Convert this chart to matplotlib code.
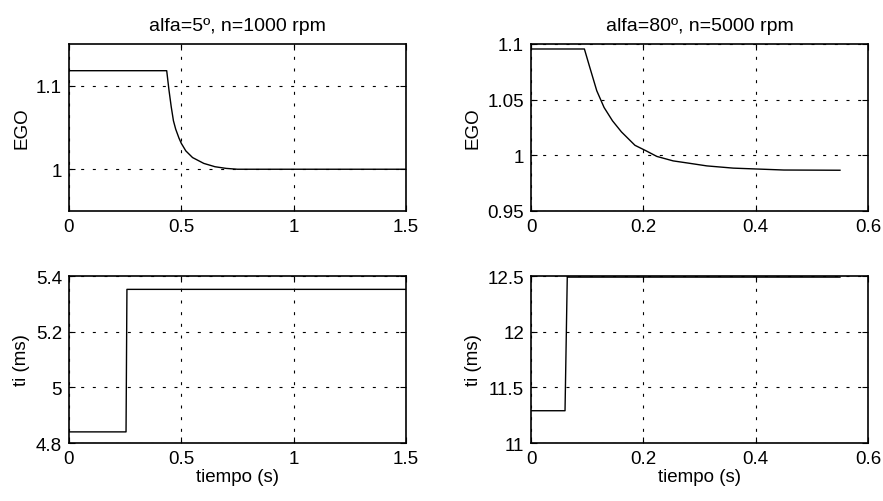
import matplotlib.pyplot as plt

plt.rcParams['font.family'] = ['Liberation Sans', 'DejaVu Sans']

# Datos leídos de la figura
# alfa=5º, n=1000 rpm
t1_ego = [0, 0.435, 0.445, 0.455, 0.465, 0.475, 0.49, 0.5, 0.52, 0.55, 0.6, 0.65, 0.7, 0.75, 1.5]
ego1 = [1.118, 1.118, 1.095, 1.075, 1.058, 1.048, 1.037, 1.031, 1.022, 1.014, 1.007, 1.003, 1.001, 1.0, 1.0]
t1_ti = [0, 0.254, 0.258, 1.5]
ti1 = [4.84, 4.84, 5.352, 5.352]

# alfa=80º, n=5000 rpm
t2_ego = [0, 0.095, 0.104, 0.117, 0.13, 0.145, 0.161, 0.185, 0.205, 0.224, 0.253, 0.28, 0.313, 0.36, 0.413, 0.45, 0.55]
ego2 = [1.0955, 1.0955, 1.080, 1.058, 1.043, 1.031, 1.021, 1.009, 1.004, 0.999, 0.995, 0.993, 0.9905, 0.9885, 0.9875, 0.9868, 0.9866]
t2_ti = [0, 0.0605, 0.0645, 0.55]
ti2 = [11.29, 11.29, 12.49, 12.49]

titulos = ['alfa=5º, n=1000 rpm', 'alfa=80º, n=5000 rpm']

fig = plt.figure(figsize=(8.83, 5.02), dpi=100)
fs = 13.5

ax1 = fig.add_axes([0.0781, 0.5777, 0.3817, 0.3327])
ax2 = fig.add_axes([0.6014, 0.5777, 0.3817, 0.3327])
ax3 = fig.add_axes([0.0781, 0.1155, 0.3817, 0.3327])
ax4 = fig.add_axes([0.6014, 0.1155, 0.3817, 0.3327])

ax1.plot(t1_ego, ego1, color='black', lw=1)
ax2.plot(t2_ego, ego2, color='black', lw=1)
ax3.plot(t1_ti, ti1, color='black', lw=1)
ax4.plot(t2_ti, ti2, color='black', lw=1)

ax1.set_xlim(0, 1.5); ax1.set_ylim(0.95, 1.15)
ax1.set_xticks([0, 0.5, 1, 1.5]); ax1.set_yticks([1, 1.1])
ax1.set_xticklabels(['0', '0.5', '1', '1.5']); ax1.set_yticklabels(['1', '1.1'])

ax2.set_xlim(0, 0.6); ax2.set_ylim(0.95, 1.1)
ax2.set_xticks([0, 0.2, 0.4, 0.6]); ax2.set_yticks([0.95, 1, 1.05, 1.1])
ax2.set_xticklabels(['0', '0.2', '0.4', '0.6']); ax2.set_yticklabels(['0.95', '1', '1.05', '1.1'])

ax3.set_xlim(0, 1.5); ax3.set_ylim(4.8, 5.4)
ax3.set_xticks([0, 0.5, 1, 1.5]); ax3.set_yticks([4.8, 5, 5.2, 5.4])
ax3.set_xticklabels(['0', '0.5', '1', '1.5']); ax3.set_yticklabels(['4.8', '5', '5.2', '5.4'])

ax4.set_xlim(0, 0.6); ax4.set_ylim(11, 12.5)
ax4.set_xticks([0, 0.2, 0.4, 0.6]); ax4.set_yticks([11, 11.5, 12, 12.5])
ax4.set_xticklabels(['0', '0.2', '0.4', '0.6']); ax4.set_yticklabels(['11', '11.5', '12', '12.5'])

ax1.set_title(titulos[0], fontsize=14, pad=10)
ax2.set_title(titulos[1], fontsize=14, pad=10)
ax1.set_ylabel('EGO', fontsize=fs)
ax2.set_ylabel('EGO', fontsize=fs)
ax3.set_ylabel('ti (ms)', fontsize=fs)
ax4.set_ylabel('ti (ms)', fontsize=fs)
ax3.set_xlabel('tiempo (s)', fontsize=fs, labelpad=1)
ax4.set_xlabel('tiempo (s)', fontsize=fs, labelpad=1)

for ax in [ax1, ax2, ax3, ax4]:
    ax.grid(True, color='black', linestyle=(0, (2.7, 7.8)), linewidth=0.8)
    ax.tick_params(direction='in', length=4, top=True, right=True, labelsize=fs, pad=5)
    for s in ax.spines.values():
        s.set_linewidth(1.2)

fig.savefig('out.png', dpi=100)
